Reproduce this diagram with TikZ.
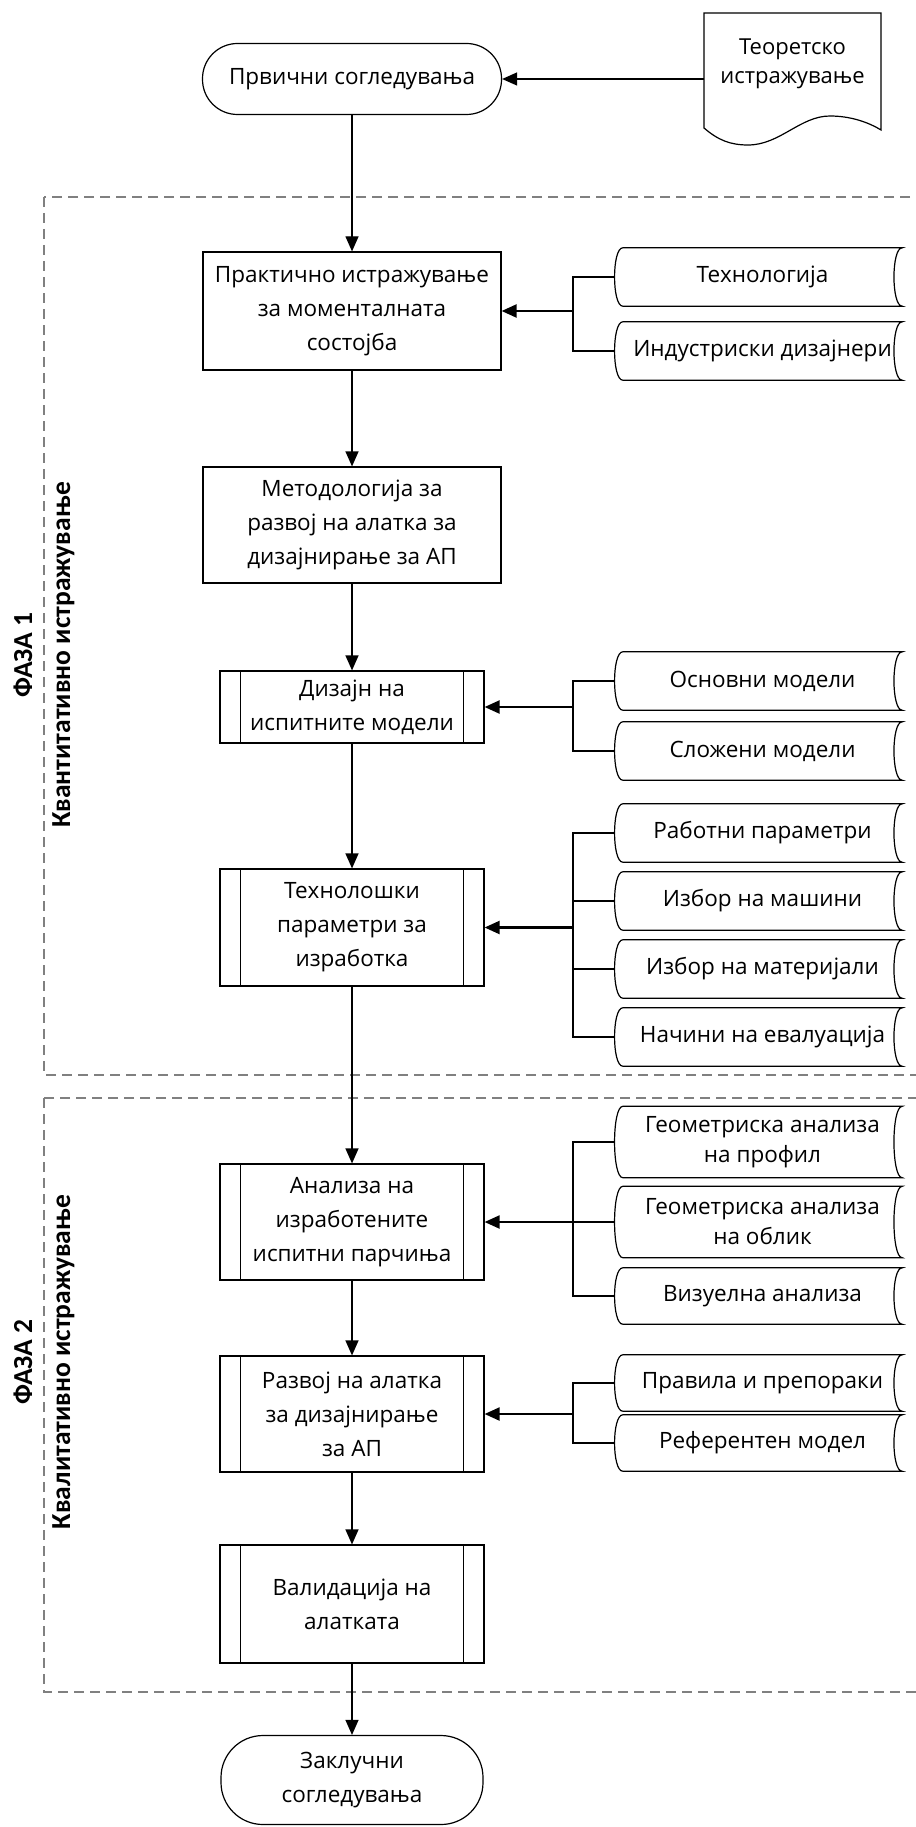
\documentclass[tikz,border=0pt]{standalone}
\usepackage{fontspec}
\setmainfont{Open Sans}
\newfontfamily\phasefont{Carlito}
\usetikzlibrary{arrows.meta}
\begin{document}
\begin{tikzpicture}[x=1pt,y=-1pt,
  every node/.style={inner sep=0pt},
  base/.style={draw=black, line width=1.2pt, fill=white, align=center, font=\fontsize{22.5}{34}\selectfont},
  procbox/.style={base, minimum width=298pt},
  predef/.style={base, minimum width=264pt},
  term/.style={base},
  tapenode/.style={align=center, minimum width=279pt, font=\fontsize{22.5}{30}\selectfont},
  doctext/.style={align=center, font=\fontsize{22}{29}\selectfont},
  arr/.style={line width=1.2pt, -{Triangle[length=15pt,width=13pt]}},
  sidearr/.style={line width=2.2pt, -{Triangle[length=15pt,width=13pt]}},
  branch/.style={line width=1.2pt},
  phase/.style={draw=black!50, line width=1.8pt, dash pattern=on 10pt off 6pt},
  phaselbl/.style={rotate=90, align=center, font=\phasefont\bfseries\fontsize{27.5}{38}\selectfont},
  shapeline/.style={line width=1.2pt}
]
\fill[white] (0,0) rectangle (915,1827);
\useasboundingbox (0,0) rectangle (915,1827);

% phase frames
\draw[phase] (44,197) rectangle (935,1075);
\draw[phase] (44,1098) rectangle (935,1692);
\node[phaselbl] (p1) at (44,655) {ФАЗА 1\\Квантитативно истражување};
\node[phaselbl] (p2) at (44,1362) {ФАЗА 2\\Квалитативно истражување};

% document shape
\draw[shapeline, fill=white] (704,13) -- (881,13) -- (881,130)
  .. controls (868,122) and (850,116) .. (830,116)
  .. controls (800,116) and (780,145) .. (748,145)
  .. controls (730,145) and (718,140) .. (704,128) -- cycle;
\node[doctext] (doc) at (792.5,64) {Теоретско\\истражување};
\coordinate (docw) at (704,79);

% main column
\node[term, rounded corners=35pt, minimum width=299pt, minimum height=71pt] (start) at (352,79) {Првични согледувања};
\node[procbox, minimum height=118pt] (b1) at (352,311) {Практично истражување\\за моменталната\\состојба};
\node[procbox, minimum height=116pt] (b2) at (352,525) {Методологија за\\развој на алатка за\\дизајнирање за АП};
\node[predef, minimum height=72pt] (b3) at (352,707) {Дизајн на\\испитните модели};
\node[predef, minimum height=117pt] (b4) at (352,927.5) {Технолошки\\параметри за\\изработка};
\node[predef, minimum height=116pt] (b5) at (352,1222) {Анализа на\\изработените\\испитни парчиња};
\node[predef, minimum height=116pt] (b6) at (352,1414) {Развој на алатка\\за дизајнирање\\за АП};
\node[predef, minimum height=118pt] (b7) at (352,1604) {Валидација на\\алатката};
\node[term, rounded corners=42pt, minimum width=262pt, minimum height=89pt] (end) at (352,1780) {Заклучни\\согледувања};

\foreach \b in {b3,b4,b5,b6,b7}{
  \draw[shapeline] ([xshift=21pt]\b.north west) -- ([xshift=21pt]\b.south west);
  \draw[shapeline] ([xshift=-21pt]\b.north east) -- ([xshift=-21pt]\b.south east);
}

% tapes
\node[tapenode, minimum height=58pt] (t1) at (762.5,277) {Технологија};
\node[tapenode, minimum height=58pt] (t2) at (762.5,351) {Индустриски дизајнери};
\node[tapenode, minimum height=58pt] (t3) at (762.5,681) {Основни модели};
\node[tapenode, minimum height=58pt] (t4) at (762.5,751) {Сложени модели};
\node[tapenode, minimum height=58pt] (t5) at (762.5,833) {Работни параметри};
\node[tapenode, minimum height=58pt] (t6) at (762.5,901) {Избор на машини};
\node[tapenode, minimum height=58pt] (t7) at (762.5,969) {Избор на материјали};
\node[tapenode, minimum height=58pt] (t8) at (762.5,1037) {Начини на евалуација};
\node[tapenode, minimum height=71pt] (t9) at (762.5,1142) {Геометриска анализа\\на профил};
\node[tapenode, minimum height=71pt] (t10) at (762.5,1222) {Геометриска анализа\\на облик};
\node[tapenode, minimum height=56pt] (t11) at (762.5,1296) {Визуелна анализа};
\node[tapenode, minimum height=56pt] (t12) at (762.5,1383) {Правила и препораки};
\node[tapenode, minimum height=56pt] (t13) at (762.5,1443) {Референтен модел};

\foreach \t in {t1,t2,t3,t4,t5,t6,t7,t8,t9,t10,t11,t12,t13}{
  \draw[shapeline] (\t.north west) -- (\t.north east)
    .. controls ([xshift=-11pt]\t.north east) and ([xshift=-11pt]\t.south east) .. (\t.south east)
    -- (\t.south west)
    .. controls ([xshift=-11pt]\t.south west) and ([xshift=-11pt]\t.north west) .. (\t.north west) -- cycle;
}

% main connectors
\draw[arr] (docw) -- (start.east);
\draw[arr] (start.south) -- (b1.north);
\draw[arr] (b1.south) -- (b2.north);
\draw[arr] (b2.south) -- (b3.north);
\draw[arr] (b3.south) -- (b4.north);
\draw[arr] (b4.south) -- (b5.north);
\draw[arr] (b5.south) -- (b6.north);
\draw[arr] (b6.south) -- (b7.north);
\draw[arr] (b7.south) -- (end.north);

% branches
\coordinate (br) at (573,0);
% group 1
\draw[branch] ([xshift=-8pt]t1.west) -- (t1.west -| br) -- (t2.west -| br) -- ([xshift=-8pt]t2.west);
\draw[sidearr] (b1.east -| br) -- (b1.east);
% group 2
\draw[branch] ([xshift=-8pt]t3.west) -- (t3.west -| br) -- (t4.west -| br) -- ([xshift=-8pt]t4.west);
\draw[sidearr] (b3.east -| br) -- (b3.east);
% group 3
\draw[branch] ([xshift=-8pt]t5.west) -- (t5.west -| br) -- (t8.west -| br) -- ([xshift=-8pt]t8.west);
\draw[branch] ([xshift=-8pt]t6.west) -- (t6.west -| br);
\draw[branch] ([xshift=-8pt]t7.west) -- (t7.west -| br);
\draw[sidearr] (b4.east -| br) -- (b4.east);
% group 4
\draw[branch] ([xshift=-8pt]t9.west) -- (t9.west -| br) -- (t11.west -| br) -- ([xshift=-8pt]t11.west);
\draw[branch] ([xshift=-8pt]t10.west) -- (t10.west -| br);
\draw[sidearr] (b5.east -| br) -- (b5.east);
% group 5
\draw[branch] ([xshift=-8pt]t12.west) -- (t12.west -| br) -- (t13.west -| br) -- ([xshift=-8pt]t13.west);
\draw[sidearr] (b6.east -| br) -- (b6.east);
\end{tikzpicture}
\end{document}
